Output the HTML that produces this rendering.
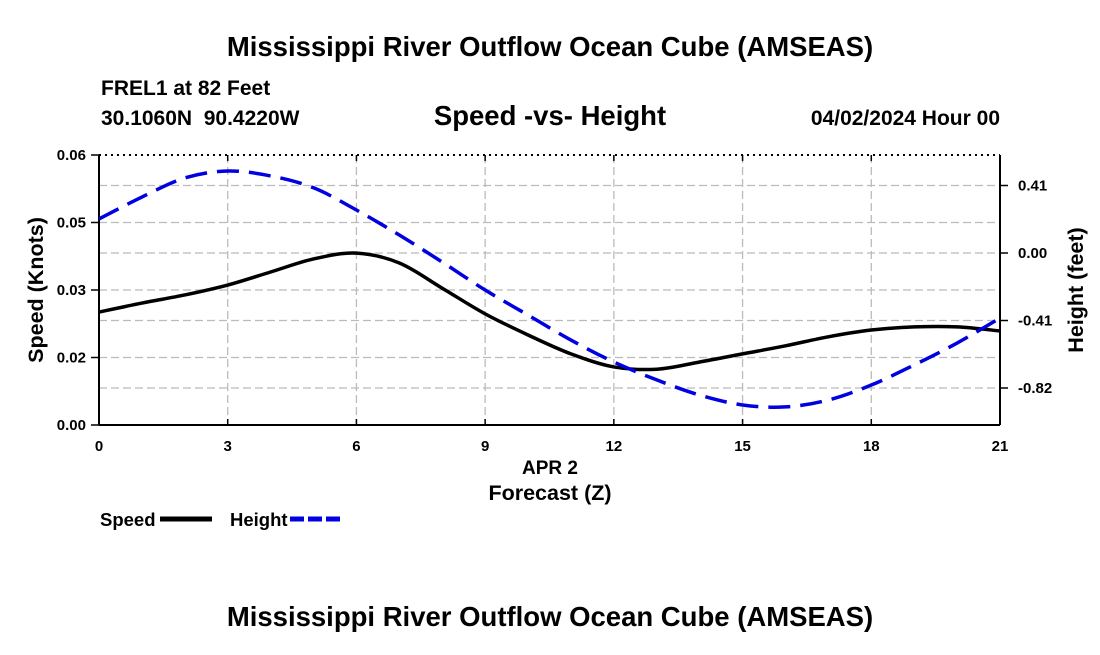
<!DOCTYPE html>
<html><head><meta charset="utf-8"><style>
body{margin:0;background:#fff;}
svg text{font-family:"Liberation Sans",sans-serif;font-weight:bold;fill:#000;}
</style></head><body>
<svg width="1100" height="650" viewBox="0 0 1100 650">
<text x="550" y="56" font-size="27.5" text-anchor="middle">Mississippi River Outflow Ocean Cube (AMSEAS)</text>
<text x="101" y="95" font-size="21">FREL1 at 82 Feet</text>
<text x="101" y="125" font-size="21">30.1060N&#160;&#160;90.4220W</text>
<text x="550" y="125" font-size="27.5" text-anchor="middle">Speed -vs- Height</text>
<text x="1000" y="125" font-size="21" text-anchor="end">04/02/2024 Hour 00</text>
<g id="grid"></g>
<g id="axes"></g>
<g id="series"></g>
<text x="550" y="474" font-size="19" text-anchor="middle">APR 2</text>
<text x="550" y="500" font-size="21.5" text-anchor="middle">Forecast (Z)</text>
<text transform="translate(43,290) rotate(-90)" font-size="21.5" text-anchor="middle">Speed (Knots)</text>
<text transform="translate(1083,290) rotate(-90)" font-size="21.5" text-anchor="middle">Height (feet)</text>
<g>
<text x="100" y="526" font-size="18.5">Speed</text>
<line x1="160" y1="519" x2="212" y2="519" stroke="#000" stroke-width="5"/>
<text x="230" y="526" font-size="18.5">Height</text>
<line x1="290" y1="519" x2="342" y2="519" stroke="#0000e0" stroke-width="5" stroke-dasharray="14,4"/>
</g>
<text x="550" y="626" font-size="27.5" text-anchor="middle">Mississippi River Outflow Ocean Cube (AMSEAS)</text>
</svg>
<script>
const hours=[0,1,2,3,4,5,6,7,8,9,10,11,12,13,14,15,16,17,18,19,20,21];
const speed=[0.0251,0.0271,0.0289,0.0311,0.0340,0.0369,0.0382,0.0360,0.0304,0.0247,0.0200,0.0158,0.0129,0.0124,0.0140,0.0158,0.0176,0.0196,0.0211,0.0218,0.0218,0.0209];
const height=[0.207,0.340,0.456,0.498,0.468,0.396,0.261,0.109,-0.055,-0.225,-0.377,-0.529,-0.662,-0.771,-0.863,-0.923,-0.935,-0.893,-0.802,-0.680,-0.547,-0.395];
const xTicks=[0,3,6,9,12,15,18,21];
const leftTickVals=[0,0.015,0.03,0.045,0.06];
const leftTickLabels=["0.00","0.02","0.03","0.05","0.06"];
const rightTickVals=[0.41,0,-0.41,-0.82];
const rightTickLabels=["0.41","0.00","-0.41","-0.82"];
const L=99,R=1000,T=155,B=425;
const sx=h=>L+(h-0)/21*(R-L);
const sy=v=>B-v/0.06*(B-T);
const hy=v=>253-v/0.41*67.5;
const NS="http://www.w3.org/2000/svg";
function mk(tag,attrs,parent){const e=document.createElementNS(NS,tag);for(const k in attrs)e.setAttribute(k,attrs[k]);parent.appendChild(e);return e;}
const grid=document.getElementById('grid'),axes=document.getElementById('axes'),series=document.getElementById('series');
xTicks.forEach(h=>{if(h>0&&h<21){const l=mk('line',{x1:sx(h),x2:sx(h),y1:T,y2:B,stroke:'#bbb','stroke-width':1.3,'stroke-dasharray':'8,4'},grid);

}
const t=mk('line',{x1:sx(h),x2:sx(h),y1:B,y2:B-6,stroke:'#000','stroke-width':1.5},axes);


const t2=mk('line',{x1:sx(h),x2:sx(h),y1:T,y2:T+6,stroke:'#000','stroke-width':1.5},axes);


const tx=mk('text',{x:sx(h),y:B+26,'font-size':15,'text-anchor':'middle'},axes);tx.textContent=h;

});
leftTickVals.forEach((v,i)=>{const y=sy(v);if(v>0&&v<0.06){const l=mk('line',{x1:L,x2:R,y1:y,y2:y,stroke:'#bbb','stroke-width':1.3,'stroke-dasharray':'8,4'},grid);

}
const t=mk('line',{x1:L-8,x2:L,y1:y,y2:y,stroke:'#000','stroke-width':1.5},axes);


const tx=mk('text',{x:L-13,y:y+5,'font-size':15,'text-anchor':'end'},axes);tx.textContent=leftTickLabels[i];

});
rightTickVals.forEach((v,i)=>{const y=hy(v);const l=mk('line',{x1:L,x2:R,y1:y,y2:y,stroke:'#bbb','stroke-width':1.3,'stroke-dasharray':'8,4'},grid);


const t=mk('line',{x1:R,x2:R+8,y1:y,y2:y,stroke:'#000','stroke-width':1.5},axes);


const tx=mk('text',{x:R+18,y:y+5,'font-size':15},axes);tx.textContent=rightTickLabels[i];

});
const topBorder=mk('line',{x1:L,x2:R,y1:T,y2:T,stroke:'#000','stroke-width':2,'stroke-dasharray':'2,4'},axes);


const la=mk('line',{x1:L,x2:L,y1:T,y2:B,stroke:'#000','stroke-width':2},axes);


const ra=mk('line',{x1:R,x2:R,y1:T,y2:B,stroke:'#000','stroke-width':2},axes);


const ba=mk('line',{x1:L,x2:R,y1:B,y2:B,stroke:'#000','stroke-width':2},axes);


function smooth(pts){let d=`M${pts[0][0]},${pts[0][1]}`;for(let i=0;i<pts.length-1;i++){const p0=pts[Math.max(0,i-1)],p1=pts[i],p2=pts[i+1],p3=pts[Math.min(pts.length-1,i+2)];
d+=` C${p1[0]+(p2[0]-p0[0])/6},${p1[1]+(p2[1]-p0[1])/6} ${p2[0]-(p3[0]-p1[0])/6},${p2[1]-(p3[1]-p1[1])/6} ${p2[0]},${p2[1]}`;}return d;}
const sp=mk('path',{d:smooth(hours.map((h,i)=>[sx(h),sy(speed[i])])),fill:'none',stroke:'#000','stroke-width':3.5},series);


const hp=mk('path',{d:smooth(hours.map((h,i)=>[sx(h),hy(height[i])])),fill:'none',stroke:'#0000e0','stroke-width':3.5,'stroke-dasharray':'22,10'},series);


</script>
</body></html>
